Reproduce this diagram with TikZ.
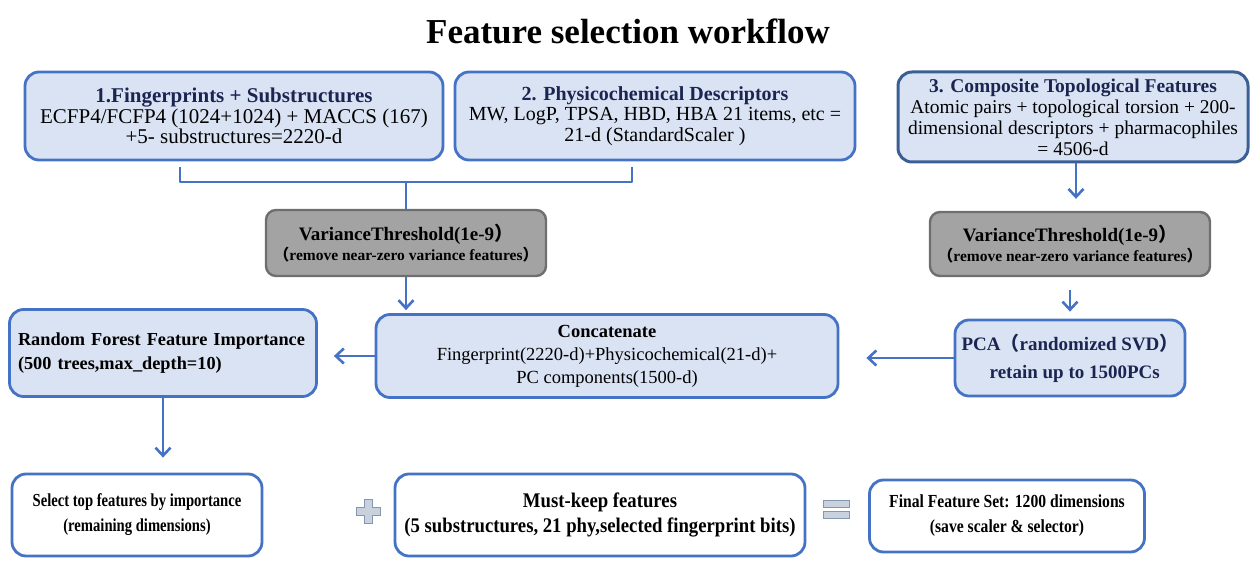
\documentclass[tikz,border=0pt]{standalone}
\usepackage{fontspec}
\setmainfont{Liberation Serif}
\newfontfamily\cjk{Noto Sans CJK SC}
\newfontfamily\condA[FakeStretch=0.8]{Liberation Serif}
\newfontfamily\condB[FakeStretch=0.9]{Liberation Serif}
\newfontfamily\condC[FakeStretch=0.85]{Liberation Serif}
\usetikzlibrary{arrows.meta,calc}
\definecolor{bbord}{HTML}{4472C4}
\definecolor{bfill}{HTML}{DAE3F3}
\definecolor{dbord}{HTML}{3A5F94}
\definecolor{gfill}{HTML}{A3A3A3}
\definecolor{gbord}{HTML}{6E6E6E}
\definecolor{navy}{HTML}{1C2551}
\definecolor{pfill}{HTML}{C9D1DD}
\definecolor{pbord}{HTML}{8497B0}
\newcommand{\fp}[1]{{\cjk #1}}
\tikzset{
  x=1pt,y=-1pt,
  box/.style={draw=bbord,line width=2.8pt,fill=bfill,rounded corners=14pt,align=center,inner sep=2pt,font=\fontsize{20}{20.5}\selectfont},
  wbox/.style={box,fill=white},
  gbox/.style={draw=gbord,line width=2.4pt,fill=gfill,rounded corners=10pt,align=center,inner sep=2pt},
  conn/.style={draw=bbord,line width=2.8pt},
  arr/.style={conn,-{Straight Barb[length=8pt,width=15pt,line width=2.6pt]}},
}
\begin{document}
\begin{tikzpicture}
\useasboundingbox (0,0) rectangle (1251,561);
\node[font=\fontsize{35}{38}\selectfont\bfseries] (title) at (628,31) {Feature selection workflow};

\node[box,minimum width=418pt,minimum height=88pt,font=\fontsize{21}{20.5}\selectfont] (b1) at (234,116)
 {{\color{navy}\bfseries 1.Fingerprints + Substructures}\\ECFP4/FCFP4 (1024+1024) + MACCS (167)\\+5- substructures=2220-d};
\node[box,minimum width=400pt,minimum height=88pt] (b2) at (655,116)
 {{\color{navy}\bfseries 2. Physicochemical Descriptors}\\MW, LogP, TPSA, HBD, HBA 21 items, etc =\\21-d (StandardScaler )};
\node[box,draw=dbord,line width=3pt,minimum width=350pt,minimum height=90pt,font=\fontsize{19.5}{21}\selectfont] (b3) at (1073,117)
 {{\color{navy}\bfseries 3. Composite Topological Features}\\Atomic pairs + topological torsion + 200-\\dimensional descriptors + pharmacophiles\\= 4506-d};

\node[gbox,minimum width=280pt,minimum height=66pt] (vt1) at (406,243)
 {{\fontsize{19}{22}\selectfont\bfseries VarianceThreshold(1e-9\fp{）}}\\[2pt]{\fontsize{15.5}{18}\selectfont\bfseries\fp{（}remove near-zero variance features\fp{）}}};
\node[gbox,minimum width=280pt,minimum height=64pt] (vt2) at (1070,244)
 {{\fontsize{19}{22}\selectfont\bfseries VarianceThreshold(1e-9\fp{）}}\\[2pt]{\fontsize{15.5}{18}\selectfont\bfseries\fp{（}remove near-zero variance features\fp{）}}};

\node[box,minimum width=462pt,minimum height=83pt,font=\fontsize{18.5}{23}\selectfont] (cc) at (607,356)
 {{\bfseries Concatenate}\\Fingerprint(2220-d)+Physicochemical(21-d)+\\PC components(1500-d)};
\node[box,minimum width=230pt,minimum height=76pt,font=\fontsize{19}{28}\selectfont\bfseries\color{navy}] (pca) at (1070,358)
 {PCA\fp{（}randomized SVD\fp{）}\\\ \ retain up to 1500PCs};
\node[box,minimum width=307pt,minimum height=87pt,align=left,text width=290pt,font=\fontsize{18.3}{24}\selectfont\bfseries] (rf) at (163,353)
 {Random Forest Feature Importance\\(500 trees,max\_depth=10)};

\node[wbox,minimum width=250pt,minimum height=82pt,font=\condA\fontsize{18.3}{25}\selectfont\bfseries] (sel) at (137,515)
 {Select top features by importance\\(remaining dimensions)};
\node[wbox,minimum width=410pt,minimum height=82pt,font=\condB\fontsize{20.8}{25}\selectfont\bfseries] (mk) at (600,515)
 {Must-keep features\\(5 substructures, 21 phy,selected fingerprint bits)};
\node[wbox,minimum width=275pt,minimum height=72pt,font=\condC\fontsize{18.4}{25}\selectfont\bfseries] (fin) at (1007,516)
 {Final Feature Set: 1200 dimensions\\(save scaler \& selector)};

% bracket
\coordinate (j) at (406,182);
\draw[conn,line join=round] ([xshift=-54pt,yshift=-6pt]b1.south) |- (j) -| ([xshift=-23pt,yshift=-6pt]b2.south);
\draw[conn] (j) -- (vt1.north);

% arrows
\draw[arr,shorten >=3pt] (vt1.south) -- (vt1.south |- cc.north);
\draw[arr,shorten >=12pt] ([xshift=3pt]b3.south) -- ([xshift=3pt]b3.south |- vt2.north);
\draw[arr,shorten <=13pt,shorten >=7pt] (vt2.south) -- (pca.north);
\draw[arr,shorten >=27pt] (pca.west) -- (pca.west -| cc.east);
\draw[arr,shorten >=16pt] (cc.west) -- (cc.west -| rf.east);
\draw[arr,shorten >=15pt] (rf.south) -- (rf.south |- sel.north);

% plus sign
\node[coordinate] (plus) at (368,511) {};
\draw[draw=pbord,fill=pfill,line width=1pt]
 ($(plus)+(-4,-12)$) -- ($(plus)+(4,-12)$) -- ($(plus)+(4,-4)$) -- ($(plus)+(12,-4)$) -- ($(plus)+(12,4)$) -- ($(plus)+(4,4)$) -- ($(plus)+(4,12)$) -- ($(plus)+(-4,12)$) -- ($(plus)+(-4,4)$) -- ($(plus)+(-12,4)$) -- ($(plus)+(-12,-4)$) -- ($(plus)+(-4,-4)$) -- cycle;
% equals sign
\node[coordinate] (eq) at (836,509) {};
\draw[draw=pbord,fill=pfill,line width=1pt] ($(eq)+(-13,-9)$) rectangle ($(eq)+(13,-2)$);
\draw[draw=pbord,fill=pfill,line width=1pt] ($(eq)+(-13,2)$) rectangle ($(eq)+(13,9)$);
\end{tikzpicture}
\end{document}
